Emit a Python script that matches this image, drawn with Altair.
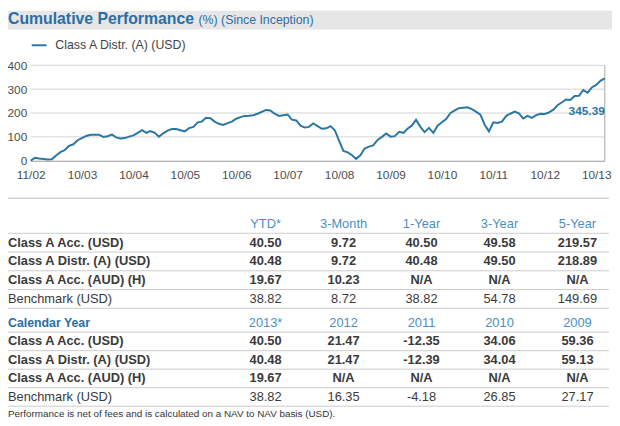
import altair as alt
import pandas as pd

# ---------------- data ----------------
title_main = "Cumulative Performance"
title_sub = "(%) (Since Inception)"
series_name = "Class A Distr. (A) (USD)"
inception_date = "2002-11-01"
# cumulative performance (%): inception, then month-ends Nov 2002 .. Dec 2013
cum_perf = [0,
    12, 9, 7, 5, 6, 22, 36, 44, 62, 69,
    86, 95, 104, 109, 109, 109, 100, 103, 110, 98,
    93, 95, 101, 106, 117, 128, 117, 124, 117, 101,
    115, 126, 133, 133, 128, 123, 137, 142, 161, 164,
    180, 178, 164, 155, 150, 158, 164, 176, 183, 188,
    189, 191, 197, 205, 213, 211, 197, 188, 191, 194,
    172, 169, 147, 139, 142, 156, 145, 134, 136, 145,
    128, 83, 41, 35, 23, 8, 23, 51, 59, 64,
    87, 100, 114, 101, 103, 121, 117, 134, 147, 172,
    142, 120, 138, 117, 147, 161, 175, 200, 211, 220,
    222, 224, 216, 206, 193, 151, 123, 161, 158, 164,
    188, 197, 206, 199, 177, 188, 180, 191, 197, 196,
    203, 214, 234, 244, 257, 255, 271, 272, 296, 285,
    307, 318, 335, 345.39]
y_ticks = [0, 100, 200, 300, 400]
x_tick_dates = ["2002-11-01", "2003-10-31", "2004-10-31", "2005-10-31", "2006-10-31",
                "2007-10-31", "2008-10-31", "2009-10-31", "2010-10-31", "2011-10-31",
                "2012-10-31", "2013-10-31"]

row_names = ["Class A Acc. (USD)", "Class A Distr. (A) (USD)",
             "Class A Acc. (AUD) (H)", "Benchmark (USD)"]
perf_headers = ["YTD*", "3-Month", "1-Year", "3-Year", "5-Year"]
perf_values = [["40.50", "9.72", "40.50", "49.58", "219.57"],
               ["40.48", "9.72", "40.48", "49.50", "218.89"],
               ["19.67", "10.23", "N/A", "N/A", "N/A"],
               ["38.82", "8.72", "38.82", "54.78", "149.69"]]
calendar_label = "Calendar Year"
cal_headers = ["2013*", "2012", "2011", "2010", "2009"]
cal_values = [["40.50", "21.47", "-12.35", "34.06", "59.36"],
              ["40.48", "21.47", "-12.39", "34.04", "59.13"],
              ["19.67", "N/A", "N/A", "N/A", "N/A"],
              ["38.82", "16.35", "-4.18", "26.85", "27.17"]]
footnote = "Performance is net of fees and is calculated on a NAV to NAV basis (USD)."

# ---------------- styles ----------------
SANS = "Liberation Sans, Arial, Helvetica, sans-serif"
LINE_C = "#2b77a3"
TITLE_C = "#2a6ea6"
HEAD_C = "#4a8fc0"
TEXT_C = "#3a3a3a"
GRID_C = "#d2d2d2"
SEP_C = "#cbcbcb"

# ---------------- build tables ----------------
month_ends = (pd.date_range("2002-12-01", periods=len(cum_perf) - 1, freq="MS")
              - pd.Timedelta(days=1)).strftime("%Y-%m-%d").tolist()
dates = [inception_date] + month_ends
line_df = pd.DataFrame({"date": dates, "value": cum_perf})


def dt(s):
    y, m, d = (int(p) for p in s.split("-"))
    return alt.DateTime(year=y, month=m, date=d, utc=True)


def xsc():
    return alt.Scale(type="utc", domain=[dt(dates[0]), dt(dates[-1])],
                     range=[23, 604.7], nice=False)


def ysc():
    return alt.Scale(domain=[y_ticks[0], y_ticks[-1]], range=[152, 55.3],
                     nice=False, zero=False)


grid_df = pd.DataFrame({"v": y_ticks[1:], "start": dates[0], "end": dates[-1]})
grid = alt.Chart(grid_df).mark_rule(color=GRID_C, strokeWidth=1).encode(
    x=alt.X("start:T", scale=xsc(), axis=None), x2="end:T",
    y=alt.Y("v:Q", scale=ysc(), axis=None))
frame_df = pd.DataFrame({"date": [dates[-1]], "lo": [y_ticks[0]], "hi": [y_ticks[-1]]})
frame = alt.Chart(frame_df).mark_rule(color="#a8a8a8", strokeWidth=1).encode(
    x=alt.X("date:T", scale=xsc(), axis=None),
    y=alt.Y("lo:Q", scale=ysc(), axis=None), y2="hi:Q")

line = alt.Chart(line_df).mark_line(color=LINE_C, strokeWidth=2).encode(
    x=alt.X("date:T", scale=xsc(), title=None,
            axis=alt.Axis(orient="bottom", values=[dt(s) for s in x_tick_dates],
                          format="%m/%y", offset=-266, ticks=False, tickSize=0,
                          domain=True, domainColor="#9a9a9a", domainWidth=1, grid=False,
                          labelFont=SANS, labelFontSize=12, labelColor="#4d4d4d",
                          labelPadding=9, labelFlush=False, labelOverlap=False)),
    y=alt.Y("value:Q", scale=ysc(), title=None,
            axis=alt.Axis(orient="left", values=y_ticks, offset=-23, ticks=False,
                          tickSize=0, domain=False, grid=False, labelFont=SANS,
                          labelFontSize=12, labelColor="#4d4d4d", labelPadding=4)))
end_lab = alt.Chart(line_df.tail(1)).mark_text(
    font=SANS, fontSize=12, fontWeight="bold", color=LINE_C, align="right",
    baseline="middle", dy=33).encode(
    x=alt.X("date:T", scale=xsc(), axis=None),
    y=alt.Y("value:Q", scale=ysc(), axis=None),
    text=alt.Text("value:Q", format=".2f"))


def one(text):
    return alt.Chart(pd.DataFrame({"t": [text]}))


band = one("").mark_rect(color="#e6e6e6").encode(
    x=alt.value(0), x2=alt.value(612), y=alt.value(0), y2=alt.value(19))
t1 = one(title_main).mark_text(font=SANS, fontSize=16, fontWeight="bold", color=TITLE_C,
                               align="left", baseline="alphabetic").encode(
    text="t:N", x=alt.value(0), y=alt.value(13))
t2 = one(title_sub).mark_text(font=SANS, fontSize=12.5, color=TITLE_C,
                              align="left", baseline="alphabetic").encode(
    text="t:N", x=alt.value(193), y=alt.value(13))
leg_rule = one("").mark_rule(color=LINE_C, strokeWidth=2).encode(
    x=alt.value(24), x2=alt.value(39), y=alt.value(35))
leg_text = one(series_name).mark_text(font=SANS, fontSize=12.5, color="#444444",
                                      align="left", baseline="middle").encode(
    text="t:N", x=alt.value(48), y=alt.value(35))
top_sep = one("").mark_rule(color="#bdbdbd", strokeWidth=1).encode(
    x=alt.value(0), x2=alt.value(609), y=alt.value(190))
foot = one(footnote).mark_text(font=SANS, fontSize=10, color="#333333",
                               align="left", baseline="middle").encode(
    text="t:N", x=alt.value(0), y=alt.value(408.7))


def table_block(headers, values, header_label, y_range, sep_off):
    keys = ["h"] + [f"r{i}" for i in range(len(row_names))]
    ys = alt.Scale(type="point", domain=keys, range=y_range, padding=0)
    xs = alt.Scale(domain=[0, len(headers) - 1], range=[261, 577], nice=False, zero=False)
    head_df = pd.DataFrame({"key": "h", "col": list(range(len(headers))), "text": headers})
    cells = []
    labels = []
    for i, (name, row) in enumerate(zip(row_names, values)):
        bold = not name.startswith("Benchmark")
        labels.append({"key": f"r{i}", "text": name, "bold": bold})
        for j, v in enumerate(row):
            cells.append({"key": f"r{i}", "col": j, "text": v, "bold": bold})
    cells = pd.DataFrame(cells)
    labels = pd.DataFrame(labels)

    def txt(df, weight, color, left=False):
        enc = dict(y=alt.Y("key:N", scale=ys, axis=None), text="text:N")
        if left:
            enc["x"] = alt.value(0)
        else:
            enc["x"] = alt.X("col:Q", scale=xs, axis=None)
        return alt.Chart(df).mark_text(
            font=SANS, fontSize=13, fontWeight=weight, color=color,
            align="left" if left else "center", baseline="middle").encode(**enc)

    layers = [
        alt.Chart(pd.DataFrame({"key": keys})).mark_rule(
            color=SEP_C, strokeWidth=1, yOffset=sep_off).encode(
            y=alt.Y("key:N", scale=ys, axis=None), x=alt.value(0), x2=alt.value(609)),
        txt(head_df, "normal", HEAD_C),
        txt(cells[cells.bold], "bold", TEXT_C),
        txt(cells[~cells.bold], "normal", TEXT_C),
        txt(labels[labels.bold], "bold", TEXT_C, left=True),
        txt(labels[~labels.bold], "normal", TEXT_C, left=True),
    ]
    if header_label:
        layers.append(
            alt.Chart(pd.DataFrame({"key": ["h"], "text": [header_label]})).mark_text(
                font=SANS, fontSize=12.5, fontWeight="bold", color=TITLE_C,
                align="left", baseline="middle").encode(
                y=alt.Y("key:N", scale=ys, axis=None), x=alt.value(0), text="text:N"))
    return alt.layer(*layers)


block1 = table_block(perf_headers, perf_values, "", [216, 292], 9.5)
block2 = table_block(cal_headers, cal_values, calendar_label, [316.3, 391.3], 9.4)

chart = alt.layer(
    band, t1, t2, leg_rule, leg_text, top_sep, foot,
    grid, frame, line, end_lab, block1, block2
).resolve_scale(x="independent", y="independent").properties(
    width=612, height=418, autosize="none", padding=0, background="white"
).configure_view(stroke=None)

chart.save("out.html", embed_options={"renderer": "svg", "actions": False})
